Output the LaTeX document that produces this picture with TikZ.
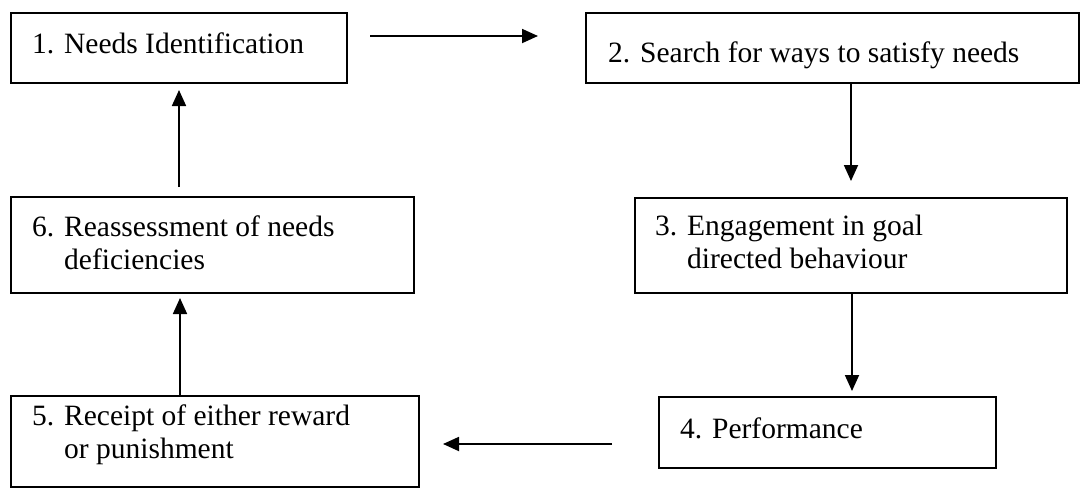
\documentclass[tikz,border=0pt]{standalone}
\usepackage{fontspec}
\setmainfont{Liberation Serif}
\usetikzlibrary{arrows.meta}
\begin{document}
\begin{tikzpicture}[x=1pt,y=-1pt,
  box/.style={draw, line width=1.4pt, inner sep=0pt},
  txt/.style={inner sep=0pt, anchor=base west, font=\fontsize{29.5}{33.5}\selectfont},
  arr/.style={line width=1.8pt, -{Triangle[length=16pt,width=14pt]}}]
\useasboundingbox (0,0) rectangle (1081,488);
% boxes
\node[box, minimum width=336pt, minimum height=70pt] (n1) at (179,48) {};
\node[box, minimum width=493pt, minimum height=70pt] (n2) at (832.5,48) {};
\node[box, minimum width=432pt, minimum height=95pt] (n3) at (851,245.5) {};
\node[box, minimum width=337pt, minimum height=71pt] (n4) at (827.5,432.5) {};
\node[box, minimum width=408pt, minimum height=91pt] (n5) at (215,441.5) {};
\node[box, minimum width=403pt, minimum height=96pt] (n6) at (212.5,245) {};
% texts
\node[txt] (t1) at (32,53) {1. Needs Identification};
\node[txt] (t2) at (608,62) {2. Search for ways to satisfy needs};
\node[txt] (t3) at (655,235) {\vtop{\hbox{3. Engagement in goal}\hbox{\hphantom{3. }directed behaviour}}};
\node[txt] (t4) at (680,438) {4. Performance};
\node[txt] (t5) at (32,425) {\vtop{\hbox{5. Receipt of either reward}\hbox{\hphantom{5. }or punishment}}};
\node[txt] (t6) at (32,236) {\vtop{\hbox{6. Reassessment of needs}\hbox{\hphantom{6. }deficiencies}}};
% arrow end points
\coordinate (a1s) at (370,36);
\coordinate (a1e) at (538,36);
\coordinate (a2s) at (851,83);
\coordinate (a2e) at (851,181);
\coordinate (a3s) at (852,293);
\coordinate (a3e) at (852,391);
\coordinate (a4s) at (612,444);
\coordinate (a4e) at (443,444);
\coordinate (a5s) at (180,396);
\coordinate (a5e) at (180,298);
\coordinate (a6s) at (179,187);
\coordinate (a6e) at (179,90);
\draw[arr] (a1s) -- (a1e);
\draw[arr] (a2s) -- (a2e);
\draw[arr] (a3s) -- (a3e);
\draw[arr] (a4s) -- (a4e);
\draw[arr] (a5s) -- (a5e);
\draw[arr] (a6s) -- (a6e);
\end{tikzpicture}
\end{document}
